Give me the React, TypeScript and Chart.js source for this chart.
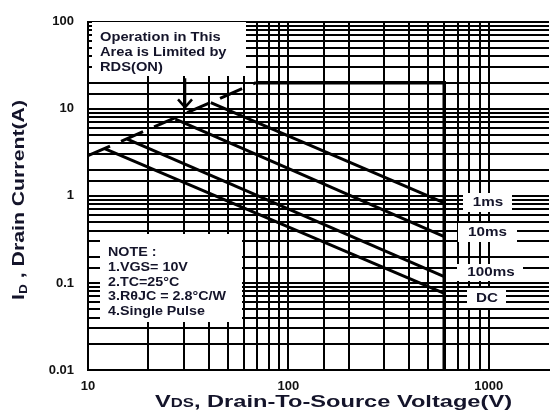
import React, { useEffect, useRef } from 'react';
import { Chart, registerables } from 'chart.js';

Chart.register(...registerables);

// ---- data ----
const rdsVoltage = [10, 69];
const rdsCurrent = [2.9, 20];
const limitVoltage = [69, 600, 600];
const limitCurrent = [20, 20, 0.01];
const ms1Voltage = [41, 600];
const ms1Current = [11.8, 0.83];
const ms10Voltage = [27.3, 600];
const ms10Current = [7.6, 0.34];
const ms100Voltage = [15.7, 600];
const ms100Current = [4.5, 0.118];
const dcVoltage = [12.1, 600];
const dcCurrent = [3.5, 0.076];

const xTickLabels = ['10', '100', '1000'];
const yTickLabels = ['0.01', '0.1', '1', '10', '100'];
const xMin = 10;
const xMax = 2000;
const yMin = 0.01;
const yMax = 100;
const gridXLimit = 1000;

const arrowVoltage = 30.5;
const arrowCurrentFrom = 22.5;
const arrowCurrentTo = 10.4;

const rdsNoteLines = ['Operation in This', 'Area is Limited by', 'RDS(ON)'];
const noteLines = ['NOTE :', '1.VGS= 10V', '2.TC=25°C', '3.RθJC = 2.8°C/W', '4.Single Pulse'];
const curveLabels = ['1ms', '10ms', '100ms', 'DC'];

const FONT = '"Liberation Sans", Arial, Helvetica, sans-serif';
const TEXT = '#14142a';

const pts = (xs: number[], ys: number[]) => xs.map((x, i) => ({ x, y: ys[i] }));

const labelFor = (value: number, labels: string[]) => {
  const l = labels.find((s) => Math.abs(Math.log10(Number(s)) - Math.log10(value)) < 1e-6);
  return l === undefined ? '' : l;
};

function stretchText(ctx: CanvasRenderingContext2D, text: string, x: number, y: number, size: number, sx: number, align: 'left' | 'center' = 'left', baseline: CanvasTextBaseline = 'alphabetic') {
  ctx.save();
  ctx.font = `bold ${size}px ${FONT}`;
  ctx.textBaseline = baseline;
  ctx.fillStyle = TEXT;
  const w = ctx.measureText(text).width * sx;
  const x0 = align === 'center' ? x - w / 2 : x;
  ctx.translate(x0, y);
  ctx.scale(sx, 1);
  ctx.textAlign = 'left';
  ctx.fillText(text, 0, 0);
  ctx.restore();
}

// draws a sequence of [text, size, dy] segments stretched to a target width
function drawRuns(ctx: CanvasRenderingContext2D, runs: [string, number, number][], targetW: number) {
  let natural = 0;
  runs.forEach(([t, s]) => {
    ctx.font = `bold ${s}px ${FONT}`;
    natural += ctx.measureText(t).width;
  });
  const sx = targetW / natural;
  ctx.scale(sx, 1);
  let cx = 0;
  runs.forEach(([t, s, dy]) => {
    ctx.font = `bold ${s}px ${FONT}`;
    ctx.fillText(t, cx, dy);
    cx += ctx.measureText(t).width;
  });
}

const annotationPlugin = {
  id: 'soaAnnotations',
  beforeDatasetsDraw(chart: any) {
    const ctx: CanvasRenderingContext2D = chart.ctx;
    ctx.save();
    ctx.fillStyle = '#ffffff';
    // RDS(ON) note box
    ctx.fillRect(92, 22, 154, 54);
    // NOTE box
    ctx.fillRect(100, 234, 142, 88);
    // curve label boxes
    ctx.fillRect(463, 193, 49, 19);
    ctx.fillRect(458, 223, 59, 19);
    ctx.fillRect(457, 264, 66, 17);
    ctx.fillRect(467, 288, 39, 20);
    ctx.restore();

    rdsNoteLines.forEach((t, i) => stretchText(ctx, t, 100, 41 + i * 15, 13, 1.13));
    noteLines.forEach((t, i) => stretchText(ctx, t, 108, 256 + i * 14.8, 13, 1.1));
    const centers = [[488, 202], [487.5, 232.5], [491, 272], [487, 298]];
    curveLabels.forEach((t, i) => stretchText(ctx, t, centers[i][0], centers[i][1], 13, 1.17, 'center', 'middle'));
  },
  afterDatasetsDraw(chart: any) {
    const ctx: CanvasRenderingContext2D = chart.ctx;
    const xs = chart.scales.x;
    const ys = chart.scales.y;
    const ax = xs.getPixelForValue(arrowVoltage);
    const ay0 = ys.getPixelForValue(arrowCurrentFrom);
    const ay1 = ys.getPixelForValue(arrowCurrentTo);
    ctx.save();
    ctx.strokeStyle = '#000';
    ctx.lineWidth = 2.5;
    ctx.beginPath();
    ctx.moveTo(ax, ay0);
    ctx.lineTo(ax, ay1);
    ctx.moveTo(ax - 7, ay1 - 8);
    ctx.lineTo(ax, ay1);
    ctx.lineTo(ax + 7, ay1 - 8);
    ctx.stroke();
    ctx.restore();
  },
  afterDraw(chart: any) {
    const ctx: CanvasRenderingContext2D = chart.ctx;
    ctx.save();
    ctx.fillStyle = TEXT;
    ctx.textBaseline = 'alphabetic';
    ctx.textAlign = 'left';
    // x title
    ctx.save();
    ctx.translate(155, 407);
    drawRuns(ctx, [['V', 17, 0], ['DS', 12, 0], [', Drain-To-Source Voltage(V)', 17, 0]], 357);
    ctx.restore();
    // y title
    ctx.save();
    ctx.translate(24, 300);
    ctx.rotate(-Math.PI / 2);
    drawRuns(ctx, [['I', 17, 0], ['D', 11, 3], [' , Drain Current(A)', 17, 0]], 200);
    ctx.restore();
    ctx.restore();
  },
};

const lineStyle = {
  showLine: true,
  borderColor: '#000',
  backgroundColor: '#000',
  borderWidth: 3,
  pointRadius: 0,
  pointHoverRadius: 0,
  tension: 0,
  fill: false,
};

export default function App() {
  const ref = useRef<HTMLCanvasElement | null>(null);

  useEffect(() => {
    if (!ref.current) return;
    Chart.defaults.font.family = FONT;
    const chart = new Chart(ref.current, {
      type: 'scatter',
      data: {
        datasets: [
          { label: 'RDS(ON) limit', data: pts(rdsVoltage, rdsCurrent), ...lineStyle, borderDash: [24, 12] },
          { label: 'Limit', data: pts(limitVoltage, limitCurrent), ...lineStyle, borderWidth: 3.5 },
          { label: '1ms', data: pts(ms1Voltage, ms1Current), ...lineStyle },
          { label: '10ms', data: pts(ms10Voltage, ms10Current), ...lineStyle },
          { label: '100ms', data: pts(ms100Voltage, ms100Current), ...lineStyle },
          { label: 'DC', data: pts(dcVoltage, dcCurrent), ...lineStyle },
        ],
      },
      options: {
        responsive: false,
        animation: false,
        devicePixelRatio: 1,
        layout: { padding: { left: 0, top: 16, right: 1, bottom: 0 } },
        plugins: { legend: { display: false }, tooltip: { enabled: false }, title: { display: false } },
        scales: {
          x: {
            type: 'logarithmic',
            min: xMin,
            max: xMax,
            grid: {
              color: (c: any) => (c.tick && c.tick.value > gridXLimit + 0.5 ? 'rgba(0,0,0,0)' : '#000'),
              lineWidth: 2,
              drawTicks: false,
            },
            border: { display: true, color: '#000', width: 2 },
            ticks: {
              autoSkip: false,
              maxRotation: 0,
              padding: 9,
              color: '#111',
              font: { size: 13, weight: 'bold' },
              callback: (v: any) => labelFor(Number(v), xTickLabels),
            },
            afterFit: (s: any) => { s.height = 46; },
          },
          y: {
            type: 'logarithmic',
            min: yMin,
            max: yMax,
            grid: { color: '#000', lineWidth: 2, drawTicks: false },
            border: { display: true, color: '#000', width: 2 },
            ticks: {
              autoSkip: false,
              padding: 14,
              color: '#111',
              font: { size: 13, weight: 'bold' },
              callback: (v: any) => labelFor(Number(v), yTickLabels),
            },
            afterFit: (s: any) => { s.width = 88; },
          },
        },
      },
      plugins: [annotationPlugin],
    } as any);
    return () => chart.destroy();
  }, []);

  return (
    <div style={{ position: 'fixed', left: 0, top: 0, width: 558, height: 416, background: '#fff' }}>
      <canvas ref={ref} width={558} height={416} style={{ display: 'block' }} />
    </div>
  );
}
